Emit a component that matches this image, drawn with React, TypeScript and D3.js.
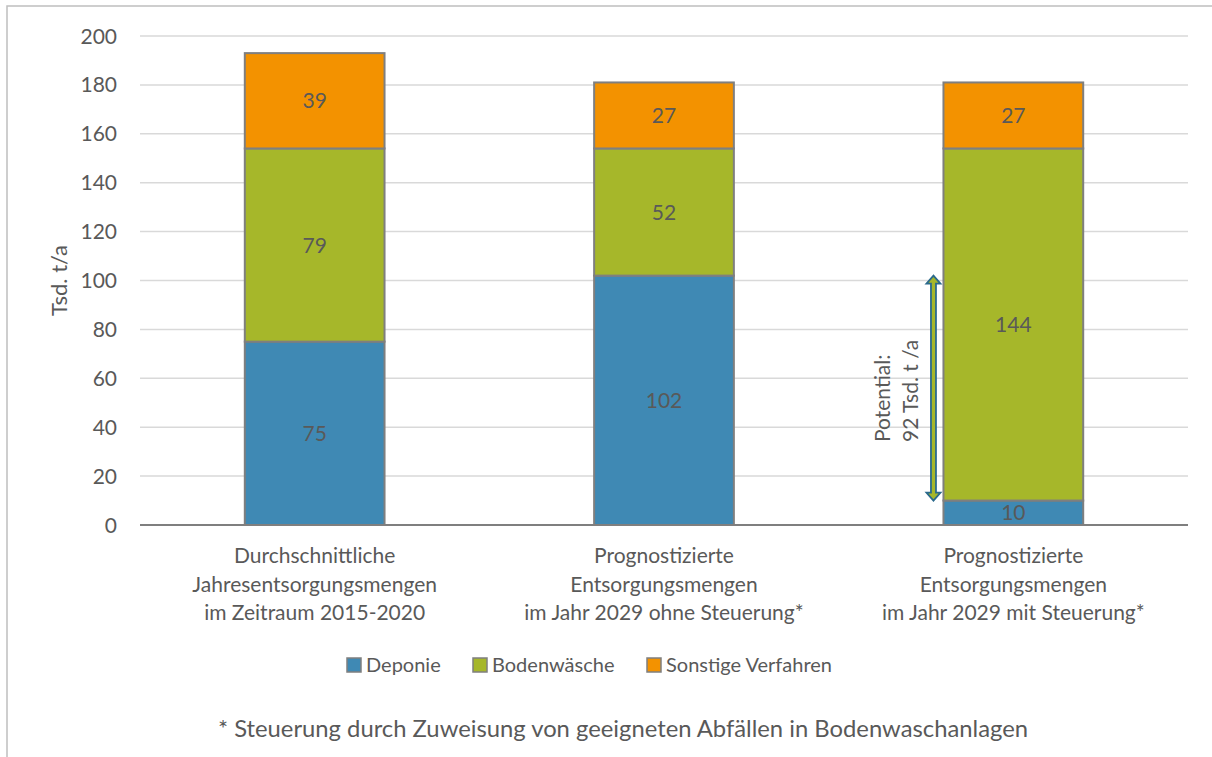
import * as d3 from 'd3';
import React from 'react';

const categories = [
  ['Durchschnittliche', 'Jahresentsorgungsmengen', 'im Zeitraum 2015-2020'],
  ['Prognostizierte', 'Entsorgungsmengen', 'im Jahr 2029 ohne Steuerung*'],
  ['Prognostizierte', 'Entsorgungsmengen', 'im Jahr 2029 mit Steuerung*'],
];
const seriesNames = ['Deponie', 'Bodenwäsche', 'Sonstige Verfahren'];
const deponie = [75, 102, 10];
const bodenwaesche = [79, 52, 144];
const sonstige = [39, 27, 27];
const yTicks = [0, 20, 40, 60, 80, 100, 120, 140, 160, 180, 200];
const potential = { from: 10, to: 102, lines: ['Potential:', '92 Tsd. t /a'] };
const footnote = '* Steuerung durch Zuweisung von geeigneten Abfällen in Bodenwaschanlagen';

const colors = ['#3F89B4', '#A6B72A', '#F39200'];
const textColor = '#595959';
const font = 'Lato, "Open Sans", sans-serif';

export default function App() {
  const width = 1212;
  const height = 757;
  const plot = { left: 140, right: 1188, top: 36, bottom: 525 };

  const rows = categories.map((c, i) => ({
    key: String(i),
    [seriesNames[0]]: deponie[i],
    [seriesNames[1]]: bodenwaesche[i],
    [seriesNames[2]]: sonstige[i],
  }));
  const stacked = d3.stack<any>().keys(seriesNames)(rows);

  const x = d3
    .scaleBand()
    .domain(rows.map((r) => r.key))
    .range([plot.left, plot.right])
    .paddingInner(0.6)
    .paddingOuter(0.3);
  const y = d3.scaleLinear().domain([0, 200]).range([plot.bottom, plot.top]);

  // double arrow next to the third bar
  const ax = (x('2') ?? 0) - 10;
  const ay0 = y(potential.to);
  const ay1 = y(potential.from);
  const sw = 2.5;
  const hw = 7;
  const hl = 8;
  const arrowPath = [
    [ax, ay0],
    [ax + hw, ay0 + hl],
    [ax + sw, ay0 + hl],
    [ax + sw, ay1 - hl],
    [ax + hw, ay1 - hl],
    [ax, ay1],
    [ax - hw, ay1 - hl],
    [ax - sw, ay1 - hl],
    [ax - sw, ay0 + hl],
    [ax - hw, ay0 + hl],
  ];
  const textStart = 442;

  const legendItems = [
    { name: seriesNames[0], x: 347 },
    { name: seriesNames[1], x: 473 },
    { name: seriesNames[2], x: 647 },
  ];

  return (
    <div style={{ position: 'absolute', left: 0, top: 0 }}>
      <svg width={width} height={height} style={{ display: 'block', fontFamily: font }}>
        <rect x={0} y={0} width={width} height={height} fill="#fff" />
        <rect x={7} y={6} width={1230} height={800} fill="none" stroke="#BFBFBF" strokeWidth={1.5} />

        {yTicks.map((t) => (
          <g key={t}>
            {t > 0 && (
              <line x1={plot.left} x2={plot.right} y1={y(t)} y2={y(t)} stroke="#D9D9D9" strokeWidth={1.5} />
            )}
            <text x={117} y={y(t)} dy="0.36em" textAnchor="end" fontSize={21} fill={textColor}>
              {t}
            </text>
          </g>
        ))}

        <text
          transform={`translate(67, ${(plot.top + plot.bottom) / 2}) rotate(-90)`}
          textAnchor="middle"
          fontSize={22}
          fill={textColor}
        >
          Tsd. t/a
        </text>

        {stacked.map((s, si) => (
          <g key={s.key}>
            {s.map((d, i) => {
              const key = String(i);
              const y0 = y(d[0]);
              const y1 = y(d[1]);
              const value = d[1] - d[0];
              return (
                <g key={key}>
                  <rect
                    x={x(key)}
                    y={y1}
                    width={x.bandwidth()}
                    height={y0 - y1}
                    fill={colors[si]}
                    stroke="#7F7F7F"
                    strokeWidth={2}
                  />
                  <text
                    x={(x(key) ?? 0) + x.bandwidth() / 2}
                    y={(y0 + y1) / 2}
                    dy="0.36em"
                    textAnchor="middle"
                    fontSize={21}
                    fill={textColor}
                  >
                    {value}
                  </text>
                </g>
              );
            })}
          </g>
        ))}

        <line x1={plot.left} x2={plot.right} y1={plot.bottom} y2={plot.bottom} stroke="#7F7F7F" strokeWidth={2} />

        {categories.map((lines, i) => (
          <text key={i} textAnchor="middle" fontSize={21} fill={textColor}>
            {lines.map((l, li) => (
              <tspan key={li} x={(x(String(i)) ?? 0) + x.bandwidth() / 2} y={563 + li * 28.5}>
                {l}
              </tspan>
            ))}
          </text>
        ))}

        <path
          d={'M' + arrowPath.map((p) => p.join(',')).join('L') + 'Z'}
          fill="#A6B72A"
          stroke="#2B6A8C"
          strokeWidth={1.8}
        />
        {potential.lines.map((l, li) => (
          <text
            key={li}
            transform={`translate(${890 + li * 28}, ${textStart}) rotate(-90)`}
            textAnchor="start"
            fontSize={21}
            fill={textColor}
          >
            {l}
          </text>
        ))}

        {legendItems.map((it, i) => (
          <g key={it.name}>
            <rect x={it.x} y={658} width={14} height={14} fill={colors[i]} stroke="#7F7F7F" strokeWidth={1.5} />
            <text x={it.x + 19} y={672} fontSize={20} fill={textColor}>
              {it.name}
            </text>
          </g>
        ))}

        <text x={623} y={737} textAnchor="middle" fontSize={23.8} fill={textColor}>
          {footnote}
        </text>
      </svg>
    </div>
  );
}
